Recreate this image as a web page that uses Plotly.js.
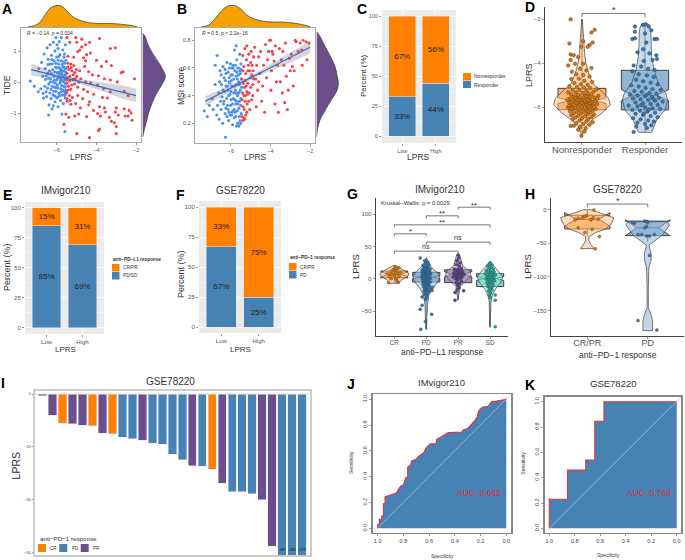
<!DOCTYPE html>
<html><head><meta charset="utf-8">
<script src="https://cdn.plot.ly/plotly-3.0.1.min.js"></script>
<style>html,body{margin:0;padding:0;background:#fff}#c{width:685px;height:560px}</style></head>
<body><div id="c"></div>
<script>
// ---------- DATA ----------
const aBlue=[[-7.35,.05],[-7.15,-.12],[-6.92,.45],[-6.95,-.3],[-6.82,-.2],[-6.78,.65],[-6.72,.2],[-6.7,-.35],[-6.68,-.5],[-6.65,.92],[-6.6,.45],[-6.58,.1],[-6.55,-.3],[-6.52,-.45],[-6.5,1.12],[-6.45,.75],[-6.45,.3],[-6.42,-.05],[-6.4,-.72],[-6.42,-1.05],[-6.35,.6],[-6.35,1.22],[-6.32,.12],[-6.3,-.22],[-6.3,-.52],[-6.28,.88],[-6.25,-.85],[-6.22,.42],[-6.2,.02],[-6.2,-.4],[-6.18,1.3],[-6.15,.7],[-6.15,.2],[-6.12,-.15],[-6.1,-.62],[-6.1,1.02],[-6.08,.5],[-6.05,-.28],[-6.05,1.45],[-6.02,.82],[-6.02,.08],[-6,-.5],[-5.98,.32],[-5.98,-.08],[-5.95,1.1],[-5.95,-.78],[-5.92,.6],[-5.9,.18],[-5.9,-.35],[-5.88,1.32],[-5.85,-.02],[-5.85,.9],[-5.82,.42],[-5.82,-.58],[-5.8,.12],[-5.8,-.2],[-5.78,1.45],[-5.78,.7],[-5.75,-1.02],[-5.75,.28],[-5.72,-.4],[-5.72,.05],[-5.7,1.05],[-5.7,.5],[-5.68,-.68],[-5.68,.22],[-5.65,-.12],[-5.65,.82],[-5.62,.38],[-5.62,-.3],[-5.6,.1],[-5.6,-1.58],[-5.6,.62],[-5.58,-.5],[-5.58,1.22],[-5.58,.25],[-5.56,-.05],[-5.56,.45],[-5.55,-.25],[-5.55,.72],[-5.55,.15],[-6.55,.22],[-6.38,.38],[-6.28,.28],[-6.12,.35],[-6.02,.48],[-5.92,.3],[-5.82,.26],[-5.72,.36],[-5.66,.02],[-6.48,-.18],[-6.25,-.12],[-6.08,-.02],[-5.96,-.18],[-5.84,-.42],[-6.18,-.75],[-5.94,.72],[-5.74,.58],[-5.62,.92],[-6.62,-.12],[-6.46,.58],[-6.36,-.34],[-6.26,.74],[-6.16,-.28],[-6.06,.62],[-6,1.22],[-5.94,-.46],[-5.88,.48],[-5.83,.06],[-5.76,-.1],[-5.7,.18],[-5.64,.5],[-5.59,-.15],[-5.57,.34],[-6.34,.02],[-6.14,.08],[-6.04,-.16],[-5.91,.84],[-5.79,-.3],[-5.69,-.24],[-5.61,-.42],[-6.44,.14],[-6.24,.6],[-6.1,-.44],[-5.97,.14],[-5.86,.34],[-5.77,.42],[-5.67,.66],[-5.56,-.36]];
const aRed=[[-5.5,1.45],[-5.35,1.3],[-5.05,1.45],[-4.75,1.4],[-5,1.3],[-4.35,1.3],[-3.85,1.42],[-3.3,1.1],[-3.05,1.12],[-4.55,1.22],[-4.75,1.15],[-4.85,1.05],[-4.95,1.0],[-4.3,.95],[-4.5,.9],[-3.5,.68],[-3.25,.55],[-2.75,.32],[-2.65,.35],[-3.75,.52],[-4,.72],[-4.55,.7],[-5.45,.62],[-5.3,.6],[-5.15,.55],[-5.4,.42],[-5.25,.38],[-5.1,.32],[-4.85,.38],[-4.6,.52],[-4.4,.35],[-4.2,.25],[-3.9,.22],[-3.6,.12],[-3.3,.08],[-2.95,.02],[-2.08,.12],[-5.5,.3],[-5.48,.15],[-5.35,.2],[-5.2,.1],[-5,.2],[-4.8,.12],[-4.55,.02],[-4.3,-.02],[-3.95,-.08],[-3.65,-.2],[-3.3,-.3],[-2.6,-.28],[-2.4,-.42],[-5.5,-.02],[-5.42,-.12],[-5.3,-.22],[-5.12,-.05],[-4.95,-.15],[-4.65,-.22],[-4.45,-.3],[-4.15,-.38],[-3.7,-.48],[-3.45,-.5],[-5.52,-.32],[-5.38,-.42],[-5.22,-.48],[-4.95,-.42],[-4.7,-.52],[-4.35,-.62],[-3.85,-.78],[-3.6,-.82],[-3,-.82],[-2.6,-.85],[-2.35,-.9],[-2.25,-.98],[-5.48,-.6],[-5.3,-.7],[-5.05,-.68],[-4.82,-.82],[-4.4,-.72],[-4.15,-.9],[-3.95,-1.0],[-3.55,-.95],[-3.35,-1.12],[-3.05,-.95],[-2.9,-1.05],[-2.55,-1.08],[-2.4,-1.08],[-2.2,-1.22],[-5.55,-1.02],[-5.4,-1.12],[-5.1,-1.08],[-4.9,-1.02],[-4.5,-1.1],[-3.8,-1.08],[-3.25,-1.25],[-3.1,-1.3],[-3,-1.42],[-5.65,-1.35],[-3.9,-1.55],[-3.85,-1.5],[-5,-1.65],[-3,-1.65],[-4.35,-1.78],[-5.15,.82],[-5.45,.85],[-4.65,.8],[-5.52,.08],[-5.46,.5],[-5.44,-.24],[-5.36,.05],[-5.28,.48],[-5.26,-.08],[-5.18,.25],[-5.08,.12],[-5.02,.42],[-4.9,.02],[-5.5,-.52],[-5.34,-.58]];
const bBlue=[[-7.35,.29],[-7.2,.25],[-7.1,.33],[-6.95,.38],[-6.9,.3],[-6.8,.48],[-6.8,.62],[-6.72,.26],[-6.7,.69],[-6.68,.33],[-6.62,.42],[-6.6,.23],[-6.55,.58],[-6.52,.36],[-6.5,.3],[-6.48,.48],[-6.42,.2],[-6.4,.61],[-6.38,.34],[-6.35,.53],[-6.32,.43],[-6.3,.27],[-6.28,.1],[-6.25,.56],[-6.22,.38],[-6.2,.64],[-6.18,.47],[-6.15,.3],[-6.12,.22],[-6.1,.5],[-6.08,.6],[-6.05,.41],[-6.02,.33],[-6,.55],[-5.98,.26],[-5.95,.47],[-5.92,.19],[-5.9,.62],[-5.88,.38],[-5.86,.52],[-5.84,.3],[-5.82,.73],[-5.8,.58],[-5.78,.44],[-5.76,.25],[-5.74,.76],[-5.72,.36],[-5.7,.66],[-5.68,.52],[-5.66,.2],[-5.64,.42],[-5.62,.6],[-5.6,.31],[-5.58,.48],[-5.56,.7],[-5.54,.22],[-5.52,.56],[-5.5,.38],[-5.5,.63],[-5.48,.27],[-5.46,.46],[-6.3,.59],[-6.15,.57],[-6.02,.63],[-5.95,.6],[-5.88,.6],[-5.78,.62],[-5.7,.57],[-5.62,.55],[-6.08,.53],[-6.25,.47],[-6.4,.44],[-6,.43],[-5.82,.47],[-5.72,.48],[-5.6,.42],[-5.55,.58],[-6.12,.4],[-5.92,.34],[-5.76,.34],[-5.64,.34],[-6.35,.36],[-6.18,.33],[-5.96,.28],[-5.84,.24],[-5.68,.29],[-5.5,.33],[-6.5,.55],[-6.1,.28],[-5.52,.2],[-5.6,.18],[-5.72,.18],[-6.58,.5],[-6.45,.39],[-6.28,.51],[-6.2,.25],[-6.06,.49],[-5.99,.37],[-5.93,.55],[-5.86,.42],[-5.8,.37],[-5.74,.54],[-5.67,.4],[-5.61,.5],[-5.57,.36],[-5.53,.44],[-5.47,.52],[-6.26,.31],[-6.04,.26],[-5.9,.29],[-5.79,.28],[-5.66,.6],[-5.58,.25],[-5.49,.59],[-6.16,.44],[-5.97,.51],[-5.75,.42]];
const bRed=[[-5.45,.52],[-5.4,.69],[-5.35,.61],[-5.32,.46],[-5.3,.74],[-5.28,.4],[-5.25,.56],[-5.22,.66],[-5.2,.76],[-5.18,.34],[-5.15,.49],[-5.12,.62],[-5.1,.7],[-5.08,.42],[-5.05,.3],[-5.02,.53],[-5,.64],[-4.98,.72],[-4.95,.37],[-4.9,.48],[-4.88,.58],[-4.85,.68],[-4.8,.75],[-4.75,.52],[-4.72,.32],[-4.7,.62],[-4.65,.44],[-4.6,.68],[-4.55,.56],[-4.5,.72],[-4.45,.36],[-4.4,.47],[-4.35,.62],[-4.3,.28],[-4.25,.77],[-4.2,.53],[-4.15,.66],[-4.1,.72],[-4.05,.8],[-4,.8],[-3.98,.44],[-3.95,.58],[-3.92,.72],[-3.88,.7],[-3.82,.65],[-3.78,.34],[-3.75,.76],[-3.7,.5],[-3.65,.62],[-3.6,.28],[-3.55,.74],[-3.5,.5],[-3.45,.66],[-3.4,.42],[-3.38,.72],[-3.32,.62],[-3.28,.35],[-3.25,.78],[-3.2,.54],[-3.15,.3],[-3.1,.44],[-3.05,.67],[-3,.58],[-2.95,.7],[-2.9,.61],[-2.85,.47],[-2.8,.58],[-2.75,.8],[-2.7,.79],[-2.6,.72],[-2.5,.78],[-2.42,.73],[-2.4,.62],[-2.35,.8],[-2.2,.79],[-2.15,.66],[-2.05,.78],[-5.45,.25],[-5.4,.22],[-5.35,.24],[-5.3,.23],[-5.38,.32],[-5.25,.26],[-5.2,.28],[-5.42,.42],[-5.35,.4],[-5.28,.36],[-5.4,.58],[-5.2,.43],[-5.1,.36],[-4.95,.55],[-5.15,.58],[-4.9,.4],[-5,.46],[-4.85,.52],[-4.6,.5],[-5.44,.37],[-5.37,.49],[-5.33,.3],[-5.27,.51],[-5.23,.47],[-5.16,.41],[-5.06,.58],[-4.93,.62]];
const aTopX=[-7.5,-7.2,-6.9,-6.6,-6.35,-6.1,-5.9,-5.7,-5.45,-5.2,-4.95,-4.6,-4.3,-3.9,-3.6,-3.3,-2.9,-2.5,-2.2,-1.95];
const aTopD=[0,.05,.19,.56,.87,.98,1,.93,.7,.47,.35,.24,.19,.16,.16,.16,.14,.1,.06,.01];
const aRightY=[1.59,1.48,1.27,.94,.61,.29,.18,-.03,-.35,-.68,-1,-1.33,-1.54,-1.76];
const aRightD=[0,.12,.21,.44,.74,.97,1,.88,.62,.41,.26,.15,.07,.01];
const bTopX=[-7.52,-7.15,-6.8,-6.47,-6.22,-5.88,-5.54,-5.2,-4.87,-4.45,-3.94,-3.43,-2.76,-2.25,-2];
const bTopD=[0,.08,.39,.75,.94,1,.86,.55,.39,.28,.23,.23,.17,.08,.01];
const bRightY=[.86,.83,.76,.69,.62,.54,.49,.44,.37,.3,.22,.16,.1];
const bRightD=[.02,.15,.38,.61,.83,.95,1,.94,.68,.42,.15,.05,0];
const aFitX=[-7.3,-6.4,-5.5,-4.6,-3.7,-2.8,-2];
const aFit=[.42,.28,.14,.0,-.14,-.29,-.42];
const aLow=[.22,.16,.07,-.09,-.28,-.5,-.64];
const aUp=[.62,.40,.21,.09,0,-.08,-.2];
const bFitX=[-7.3,-6.4,-5.5,-4.6,-3.7,-2.8,-2];
const bFit=[.36,.426,.493,.559,.625,.691,.75];
const bLow=[.325,.402,.476,.54,.597,.65,.705];
const bUp=[.395,.45,.51,.578,.653,.732,.795];

const lowHigh=["Low","High"];
const cResponder=[33,44], cNonresponder=[67,56];
const eBottom=[85,69], eTop=[15,31];
const fBottom=[67,25], fTop=[33,75];

const dCats=["Nonresponder","Responder"];
const dNonViolinY=[-2,-2.64,-3.09,-3.55,-4,-4.45,-4.91,-5.29,-5.59,-5.89,-6.27,-6.58,-6.88,-7.18,-7.33];
const dNonViolinW=[.005,.016,.032,.042,.063,.106,.169,.317,.423,.45,.317,.159,.063,.016,.005];
const dResViolinY=[-2.21,-2.48,-3.09,-3.7,-4.3,-4.91,-5.36,-5.67,-6.12,-6.58,-7.14];
const dResViolinW=[.053,.09,.095,.106,.143,.212,.328,.36,.317,.185,.106];
const dNonPts=[[-.18,-2],[.2,-2.48],[.15,-2.6],[-.2,-3.1],[.02,-3],[.17,-3.06],[.12,-3.17],[.09,-3.25],[-.01,-3.25],[-.18,-3.6],[-.13,-3.63],[-.18,-3.85],[-.06,-3.72],[-.22,-4.1],[-.11,-4.02],[.02,-4.02],[.15,-4.22],[-.03,-4.25],[-.16,-4.38],[.07,-4.33],[.02,-4.53],[-.09,-4.5],[.12,-4.6],[-.17,-4.72],[-.05,-4.7],[.04,-4.8],[.16,-4.85],[-.12,-4.9],[-.02,-4.95],[.09,-4.98],[-.2,-5.05],[-.08,-5.08],[.03,-5.1],[.13,-5.12],[.23,-5.18],[-.15,-5.2],[-.04,-5.22],[.07,-5.25],[.18,-5.3],[-.22,-5.32],[-.1,-5.33],[.01,-5.35],[.11,-5.38],[-.17,-5.42],[-.06,-5.44],[.05,-5.45],[.15,-5.47],[.26,-5.48],[-.13,-5.52],[-.02,-5.54],[.09,-5.55],[.2,-5.57],[-.19,-5.6],[-.08,-5.61],[.03,-5.62],[.13,-5.64],[-.23,-5.66],[-.12,-5.67],[-.01,-5.68],[.1,-5.7],[.21,-5.72],[-.16,-5.74],[-.05,-5.75],[.06,-5.77],[.16,-5.78],[-.2,-5.8],[-.09,-5.82],[.02,-5.83],[.12,-5.84],[.24,-5.86],[-.14,-5.88],[-.03,-5.89],[.08,-5.91],[.18,-5.92],[-.18,-5.95],[-.07,-5.96],[.04,-5.98],[.14,-5.99],[-.22,-6.01],[-.11,-6.03],[0,-6.04],[.1,-6.06],[.22,-6.08],[-.15,-6.1],[-.04,-6.12],[.07,-6.14],[.17,-6.16],[-.19,-6.18],[-.08,-6.2],[.03,-6.22],[.13,-6.24],[-.13,-6.27],[-.02,-6.29],[.09,-6.31],[.19,-6.34],[-.17,-6.36],[-.06,-6.39],[.05,-6.41],[.15,-6.44],[-.11,-6.47],[0,-6.5],[.1,-6.53],[-.15,-6.56],[-.04,-6.6],[.07,-6.64],[.17,-6.68],[-.09,-6.72],[.02,-6.76],[.12,-6.8],[-.13,-6.84],[-.03,-6.9],[.06,-6.95],[-.18,-6.85],[-.06,-7.02],[.04,-7.1],[-.01,-7.3],[-.1,-5.57],[.04,-5.72],[-.2,-5.92],[.24,-5.6],[.11,-5.95],[-.01,-5.79],[-.16,-6.06],[.06,-5.5],[.19,-6.0],[-.07,-5.68],[.09,-6.19]];
const dResPts=[[-.16,-2.33],[-.03,-2.26],[.01,-2.22],[.06,-2.33],[-.16,-2.56],[-.2,-2.9],[-.16,-2.86],[0,-2.64],[.1,-2.5],[.15,-2.9],[.19,-2.9],[.02,-3.06],[-.03,-3.36],[.07,-3.55],[.18,-3.64],[.19,-3.8],[-.12,-3.5],[.12,-3.85],[-.02,-3.9],[-.18,-4.1],[-.06,-4.15],[.05,-4.25],[.15,-4.3],[-.2,-4.36],[-.1,-4.5],[.03,-4.55],[.14,-4.62],[-.14,-4.75],[-.03,-4.82],[.09,-4.88],[.2,-4.95],[-.22,-5],[-.1,-5.06],[.01,-5.12],[.12,-5.18],[.25,-5.22],[-.17,-5.26],[-.05,-5.3],[.07,-5.35],[.18,-5.38],[-.24,-5.42],[-.12,-5.46],[0,-5.5],[.11,-5.53],[.22,-5.57],[-.19,-5.6],[-.07,-5.64],[.05,-5.67],[.16,-5.7],[.28,-5.74],[-.15,-5.78],[-.03,-5.82],[.09,-5.85],[.2,-5.9],[-.26,-5.92],[-.12,-5.96],[0,-6],[.12,-6.04],[.24,-6.08],[-.2,-6.12],[-.08,-6.16],[.04,-6.2],[.16,-6.25],[-.15,-6.3],[-.03,-6.35],[.09,-6.4],[.2,-6.45],[-.19,-6.5],[-.07,-6.55],[.05,-6.6],[.14,-6.65],[-.12,-6.7],[0,-6.76],[.1,-6.82],[-.14,-6.88],[.03,-6.94],[-.18,-7.12],[.02,-5.44],[-.06,-5.9],[.13,-5.62],[-.02,-6.28],[.06,-6.1]];
const dBoxNon={q1:-6.11,med:-5.7,q3:-5.14,lo:-7.35,hi:-2,notch:.13};
const dBoxRes={q1:-6.12,med:-5.45,q3:-4.32,lo:-7.14,hi:-2.22,notch:.25};

const gCats=["CR","PD","PR","SD"];
const gQ1=[1.5,-5,-6,-12], gMed=[7,2.5,7,.5], gQ3=[12,10,14,8], gLo=[-7,-78,-33,-75], gHi=[19,32,37,25], gNotch=[4,2,4,3];
const gViolinY=[[-7,-3,1,5,9,13,17,20],[-78,-60,-40,-25,-15,-5,3,10,18,25,33],[-33,-22,-12,-3,5,12,20,28,37],[-75,-50,-35,-25,-15,-5,3,10,18,25]];
const gViolinW=[[.15,.2,.3,.44,.44,.3,.17,.06],[.015,.02,.04,.08,.2,.36,.42,.34,.16,.06,.01],[.01,.03,.07,.24,.4,.36,.14,.1,.05],[.01,.015,.03,.07,.18,.34,.4,.3,.16,.04]];
const gPts=[
 [[-.18,-6],[.12,-5],[.08,-3],[-.1,0],[.05,1],[-.15,4],[.15,4],[0,5],[-.06,7],[.1,8],[-.2,8],[.04,10],[-.1,11],[.2,10],[.08,13],[-.04,14],[.05,16],[.02,19],[.14,17]],
 [[.81,32],[.81,-47],[.87,-41],[.87,-28],[1.17,-55],[.97,-66],[.83,-78],[.95,28],[1.05,26],[.98,24],[1.08,22],[.9,21],[1.02,20],[.94,18],[1.06,18],[1,16],[.9,15],[1.12,15],[.96,14],[1.04,13],[.87,12],[1.1,11],[.98,11],[1.02,10],[.92,9],[1.07,9],[.96,8],[1.14,8],[.88,7],[1.01,7],[1.05,6],[.93,6],[.98,5],[1.1,5],[.86,4],[1.03,4],[.95,3],[1.07,3],[1,2],[.91,2],[1.13,1],[.97,1],[1.04,0],[.88,0],[.94,-1],[1.08,-1],[1,-2],[.9,-3],[1.05,-3],[.96,-4],[1.12,-5],[1.02,-5],[.93,-6],[.99,-7],[1.07,-8],[.89,-8],[.96,-10],[1.04,-10],[1.1,-11],[.92,-12],[1,-13],[1.06,-14],[.95,-15],[1.13,-16],[.98,-17],[1.03,-18],[.93,-19],[1.08,-20],[.99,-21],[1.04,-23],[.94,-24],[1.01,-26],[1.18,-18],[1.2,-13],[.97,-32],[1.01,-29]],
 [[2,37],[2.02,32],[1.96,28],[2.06,25],[1.9,-33],[2.17,-18.5],[1.9,-21],[1.94,22],[2.04,20],[2.1,16],[1.88,15],[1.99,15],[2.06,13],[1.93,12],[2.14,11],[2.02,10],[1.86,9],[1.97,8],[2.09,7],[2.18,7],[1.9,6],[2.03,5],[1.95,4],[2.12,3],[1.84,3],[2,2],[2.07,1],[1.92,0],[1.98,-2],[2.1,-4],[1.94,-6],[2.04,-8],[1.98,-10],[2.02,-14],[1.96,-17]],
 [[3.16,-74],[3.16,-33],[3.16,-25],[3,25],[2.98,23],[3.06,21],[2.92,20],[3.03,18],[2.96,16],[3.1,15],[2.88,13],[3.01,12],[3.12,11],[2.94,10],[3.05,9],[2.85,8],[2.99,7],[3.16,6],[3.08,5],[2.91,4],[3.02,3],[2.96,2],[3.11,1],[2.87,0],[3.04,-1],[2.94,-2],[3.14,-3],[2.99,-4],[3.07,-5],[2.9,-6],[3.02,-7],[2.96,-9],[3.1,-10],[2.93,-12],[3.04,-13],[2.98,-15],[3.06,-17],[2.95,-19],[3.02,-22],[2.97,-25],[3.01,-29]]
];
const gBrackets=[[0,2,42.8,"ns"],[0,1,69.6,"*"],[0,3,83.5,"**"],[1,3,56.7,"ns"],[1,2,97.4,"**"],[2,3,110.8,"**"]];

const hCats=["CR/PR","PD"];
const hQ1=[-28.7,-38.6], hMed=[-14.4,-27], hQ3=[-8.4,-17], hLo=[-40,-48], hHi=[-1,-17], hNotch=[10,12];
const hViolinY=[[-58,-52,-46,-40,-34,-29,-23,-17,-12,-6,0],[-180,-172,-166,-156,-146,-117,-85,-75,-65,-53,-38,-28,-23,-18]];
const hViolinW=[[.11,.06,.025,.03,.14,.3,.38,.42,.44,.25,.06],[.08,.08,.08,.055,.01,.01,.02,.055,.055,.02,.24,.32,.36,.33]];
const hPts=[[[.11,-.5],[-.01,-9],[-.05,-10],[-.08,-12],[-.15,-13],[-.2,-15],[.1,-12],[.18,-14],[.06,-15],[-.15,-27],[.08,-29],[-.04,-34],[.2,-40],[.13,-58]],
 [[.84,-165],[1.15,-179],[1.03,-68],[.95,-17],[.98,-18],[1,-19],[.78,-20],[.75,-19],[.95,-27],[.98,-25],[.84,-37],[.98,-39],[1.03,-39],[1.11,-37],[.9,-37]]];

const iResponse=["PR","PR","CR","PR","PR","CR","PR","CR","PD","PD","PR","PD","PD","PD","PD","PR","PD","CR","PR","PD","PD","PD","PR","PR","PD","PD","PD"];
const iValues=[-.7,-8,-11,-11.3,-11.8,-12,-14.8,-15,-16.3,-17,-17.5,-18.7,-19,-22.8,-25,-27.2,-27.3,-28.6,-33.9,-37,-37,-37.7,-40,-57.7,-68,-165,-179];
const iTicks=[0,-20,-40,-60];

const jSpec=[1,1,.987,.987,.969,.969,.956,.956,.943,.943,.917,.852,.839,.821,.8,.782,.767,.767,.744,.736,.702,.684,.64,.627,.593,.547,.541,.516,.484,.451,.347,.334,.295,.277,.244,.225,.218,.199,.179,.14,.114,.075,.023,0];
const jSens=[0,.026,.039,.07,.07,.096,.096,.191,.191,.245,.253,.276,.302,.328,.336,.393,.393,.473,.491,.522,.535,.556,.589,.62,.656,.656,.69,.705,.718,.742,.747,.762,.778,.798,.837,.866,.904,.93,.941,.946,.982,.987,.995,1];
const kSpec=[1,1,.857,.857,.714,.714,.643,.643,.571,.571,0];
const kSens=[0,.23,.23,.46,.46,.54,.54,.846,.846,1,1];
const rocTicks=[0,.2,.4,.6,.8,1];

// ---------- HELPERS ----------
const ORANGE="#FF7F00",BLUE="#4682B4",PURPLE="#6B4E8B",GOLD="#F7A100";
const FONT="Liberation Sans, Arial, sans-serif";
const X=p=>p/685,Y=p=>1-p/560;
const layout={width:685,height:560,margin:{l:0,r:0,t:0,b:0},autosize:false,showlegend:false,barmode:"stack",
 paper_bgcolor:"#fff",plot_bgcolor:"rgba(0,0,0,0)",font:{family:FONT,color:"#333"},shapes:[],annotations:[]};
const traces=[];
let nAxes=0;
function panel(box,xr,yr,xo={},yo={}){
 nAxes++;const n=nAxes,s=n==1?"":n;
 const base={showgrid:false,zeroline:false,showline:false,ticks:"outside",ticklen:2,tickwidth:.6,tickcolor:"#555",tickfont:{size:5.5,color:"#555",family:FONT}};
 layout["xaxis"+s]=Object.assign({},base,{domain:[X(box[0]),X(box[1])],range:xr,anchor:"y"+s,autorange:false},xo);
 layout["yaxis"+s]=Object.assign({},base,{domain:[Y(box[3]),Y(box[2])],range:yr,anchor:"x"+s,autorange:false},yo);
 return {xaxis:"x"+s,yaxis:"y"+s};
}
function note(x,y,text,size,o={}){
 layout.annotations.push(Object.assign({xref:"paper",yref:"paper",x:X(x),y:Y(y),text:text,showarrow:false,xanchor:"center",yanchor:"middle",
  font:{size:size,color:o.color||"#333",family:FONT},borderpad:0},o.a||{}));
}
function rect(x0,y0,x1,y1,color,layer="below"){
 layout.shapes.push({type:"rect",xref:"paper",yref:"paper",x0:X(x0),x1:X(x1),y0:Y(y0),y1:Y(y1),fillcolor:color,line:{width:0},layer:layer});
}
function add(ax,t){traces.push(Object.assign(t,ax,{hoverinfo:"skip"}));}
const hidden={showticklabels:false,ticks:"",showline:false};
const boxLine={showline:true,mirror:true,linecolor:"#aaa",linewidth:1.3};
function scatterPts(ax,pts,color,size,line){
 add(ax,{type:"scatter",mode:"markers",x:pts.map(p=>p[0]),y:pts.map(p=>p[1]),marker:{color:color,size:size,line:line||{width:0}}});
}
function violin(ax,cx,ys,ws,fill){
 const xs=ys.map((_,i)=>cx-ws[i]).concat(ys.map((_,i)=>cx+ws[ys.length-1-i]));
 const yy=ys.concat(ys.slice().reverse());
 xs.push(xs[0]);yy.push(yy[0]);
 add(ax,{type:"scatter",mode:"lines",x:xs,y:yy,fill:"toself",fillcolor:fill,line:{color:"#444",width:.7,shape:"linear"}});
}
function notchBox(ax,cx,b,fill,w){
 add(ax,{type:"box",x:[cx],q1:[b.q1],median:[b.med],q3:[b.q3],lowerfence:[b.lo],upperfence:[b.hi],notchspan:[b.notch],notched:true,notchwidth:.25,width:w,whiskerwidth:0,boxpoints:false,
  fillcolor:fill,line:{color:"#333",width:.9}});
}
function bracket(ax,x0,x1,y,drop){
 add(ax,{type:"scatter",mode:"lines",x:[x0,x0,x1,x1],y:[y-drop,y,y,y-drop],line:{color:"#555",width:.8}});
}
function density(box,xr,yr,xs,ys,color,horizontal){
 const ax=panel(box,xr,yr,hidden,hidden);
 add(ax,{type:"scatter",mode:"lines",x:xs,y:ys,fill:horizontal?"tozerox":"tozeroy",fillcolor:color,line:{color:"#444",width:.8,shape:"spline"}});
}
function scatterPanel(box,xr,yr,yo,blue,red,fx,f,lo,hi){
 const ax=panel(box,xr,yr,Object.assign({tickvals:[-6,-4,-2]},boxLine),Object.assign({},boxLine,yo));
 scatterPts(ax,blue,"#4C90F0",3.1);
 scatterPts(ax,red,"#F2444E",3.1);
 add(ax,{type:"scatter",mode:"lines",x:fx.concat(fx.slice().reverse()),y:hi.concat(lo.slice().reverse()),fill:"toself",fillcolor:"rgba(120,120,120,.3)",line:{width:0}});
 add(ax,{type:"scatter",mode:"lines",x:fx,y:f,line:{color:"#3B68D8",width:1.3}});
}
function stackPanel(box,yr,b,t,tickSize,legend){
 rect(box[0],box[2],box[1],box[3],"#EBEBEB");
 const grid={showgrid:true,gridcolor:"#fff",gridwidth:.7};
 const ax=panel(box,[-.6,1.6],yr,Object.assign({tickvals:[0,1],ticktext:lowHigh,tickfont:{size:tickSize,color:"#555",family:FONT}},grid),
   Object.assign({tickvals:[0,25,50,75,100],tickfont:{size:tickSize,color:"#555",family:FONT},minor:{dtick:12.5,showgrid:true,gridcolor:"#fff",gridwidth:.35,ticks:""}},grid));
 [[b,BLUE],[t,ORANGE]].forEach(([v,c])=>add(ax,{type:"bar",x:[0,1],y:v,width:.8,marker:{color:c,line:{width:.5,color:"#e3e8ee"}},
   text:v.map(p=>p+"%"),textposition:"inside",insidetextanchor:"middle",constraintext:"none",textfont:{size:8,color:"#222",family:FONT}}));
}

// ---------- A ----------
scatterPanel([21,141,28,142],[-7.82,-1.75],[-1.92,1.76],{tickvals:[-1,0,1]},aBlue,aRed,aFitX,aFit,aLow,aUp);
density([21,141,5,27],[-7.82,-1.75],[0,1.02],aTopX,aTopD,GOLD,false);
density([142.5,166,28,142],[0,1.03],[-1.92,1.76],aRightD,aRightY,PURPLE,true);
// ---------- B ----------
scatterPanel([195,315,28,143],[-7.82,-1.75],[.058,.889],{tickvals:[.2,.4,.6,.8],tickformat:".1f"},bBlue,bRed,bFitX,bFit,bLow,bUp);
density([195,315,5,27],[-7.82,-1.75],[0,1.02],bTopX,bTopD,GOLD,false);
density([316.5,339,28,143],[0,1.03],[.058,.889],bRightD,bRightY,PURPLE,true);
// ---------- C E F ----------
stackPanel([382,456,10,143],[-5.5,105],cResponder,cNonresponder,5.5);
stackPanel([25,104,202,334],[-5,104.7],eBottom,eTop,6);
stackPanel([199,281,201,333],[-5,105],fBottom,fTop,6);
// ---------- D ----------
{
 const ax=panel([545,682,7,142],[-.587,1.587],[-7.58,-1.44],
  {showline:true,linecolor:"#444",linewidth:1.1,tickvals:[0,1],ticktext:dCats,ticklabelstandoff:-4,tickfont:{size:9.5,color:"#555",family:FONT}},
  {showline:true,linecolor:"#444",linewidth:1.1,tickvals:[-6,-4,-2],tickfont:{size:6,color:"#555",family:FONT}});
 violin(ax,0,dNonViolinY,dNonViolinW,"rgba(253,190,130,.55)");
 violin(ax,1,dResViolinY,dResViolinW,"rgba(150,185,220,.55)");
 notchBox(ax,0,dBoxNon,"rgba(255,140,30,.65)",.76);
 notchBox(ax,1,dBoxRes,"rgba(70,130,180,.6)",.75);
 scatterPts(ax,dNonPts,"#D9760F",3.5,{color:"#5a3a10",width:.5});
 scatterPts(ax,dResPts.map(p=>[p[0]+1,p[1]]),"#3E77A8",3.5,{color:"#223f5a",width:.5});
 bracket(ax,0,1,-1.73,.18);
}
// ---------- G ----------
{
 const ax=panel([375.7,508,198,335.7],[-.583,3.56],[-88,125],
  {showline:true,linecolor:"#444",linewidth:1.1,tickvals:[0,1,2,3],ticktext:gCats,ticklabelstandoff:-2,tickfont:{size:6.5,color:"#555",family:FONT}},
  {showline:true,linecolor:"#444",linewidth:1.1,tickvals:[-50,0,50,100],tickfont:{size:6,color:"#555",family:FONT}});
 const fills=["rgba(253,190,130,.55)","rgba(150,185,220,.55)","rgba(175,160,200,.55)","rgba(150,225,215,.55)"];
 const boxF=["rgba(245,150,50,.7)","rgba(70,130,180,.65)","rgba(120,90,150,.65)","rgba(70,200,185,.7)"];
 const ptC=["#D9760F","#3E77A8","#5F4682","#2F9E92"],ptL=["#5a3a10","#223f5a","#2f2244","#14524c"];
 gCats.forEach((c,i)=>{
  violin(ax,i,gViolinY[i],gViolinW[i],fills[i]);
  notchBox(ax,i,{q1:gQ1[i],med:gMed[i],q3:gQ3[i],lo:gLo[i],hi:gHi[i],notch:gNotch[i]},boxF[i],.85);
  scatterPts(ax,gPts[i],ptC[i],3,{color:ptL[i],width:.4});
 });
 gBrackets.forEach(b=>{
  bracket(ax,b[0],b[1],b[2],4);
  layout.annotations.push({xref:ax.xaxis,yref:ax.yaxis,x:(b[0]+b[1])/2,y:b[2]+(b[3]=="ns"?7:3),text:b[3],showarrow:false,font:{size:b[3]=="ns"?7:8,color:"#333",family:FONT}});
 });
}
// ---------- H ----------
{
 const ax=panel([551,684,198,336],[-.6,1.6],[-188,17.4],
  {showline:true,linecolor:"#444",linewidth:1.1,tickvals:[0,1],ticktext:hCats,ticklabelstandoff:-4,tickfont:{size:9,color:"#555",family:FONT}},
  {showline:true,linecolor:"#444",linewidth:1.1,tickvals:[-150,-100,-50,0],tickfont:{size:6,color:"#555",family:FONT}});
 violin(ax,0,hViolinY[0],hViolinW[0],"rgba(253,190,130,.55)");
 violin(ax,1,hViolinY[1],hViolinW[1],"rgba(150,185,220,.6)");
 notchBox(ax,0,{q1:hQ1[0],med:hMed[0],q3:hQ3[0],lo:hLo[0],hi:hHi[0],notch:hNotch[0]},"rgba(255,140,30,.65)",.75);
 notchBox(ax,1,{q1:hQ1[1],med:hMed[1],q3:hQ3[1],lo:hLo[1],hi:hHi[1],notch:hNotch[1]},"rgba(70,130,180,.6)",.74);
 scatterPts(ax,hPts[0],"#D9760F",3,{color:"#5a3a10",width:.4});
 scatterPts(ax,hPts[1],"#3E77A8",3,{color:"#223f5a",width:.4});
 bracket(ax,0,1,8.4,5);
}
// ---------- I ----------
{
 const colors={CR:ORANGE,PD:BLUE,PR:PURPLE};
 const ax=panel([34.7,310,390.7,555],[-.8,26.8],[-61,1.25],
  {showticklabels:false,ticks:"",showline:true,mirror:true,linecolor:"#ccc",linewidth:1.5},
  {showline:true,mirror:true,linecolor:"#ccc",linewidth:1.5,tickvals:iTicks,tickfont:{size:4,color:"#444",family:FONT},ticklen:1.5});
 add(ax,{type:"bar",x:iValues.map((_,i)=>i),y:iValues,width:.84,marker:{color:iResponse.map(r=>colors[r]),line:{width:.5,color:"#dde5ee"}}});
 add(ax,{type:"scatter",mode:"lines",x:[-.8,26.8],y:[0,0],line:{color:"#bbb",width:.8,dash:"2px,2px"}});
 iValues.forEach((v,i)=>{ if(v<-60) layout.annotations.push({xref:ax.xaxis,yref:ax.yaxis,x:i,y:-59.2,text:String(Math.round(v)),showarrow:false,
   font:{size:3.8,color:"#111",family:FONT}}); });
}
// ---------- J K ----------
function rocPanel(box,xr,yr,sp,se){
 const tf={size:5.6,color:"#444",family:FONT};
 const ax=panel(box,xr,yr,Object.assign({},boxLine,{linecolor:"#888",tickvals:rocTicks,tickformat:".1f",tickfont:tf}),
   Object.assign({},boxLine,{linecolor:"#888",tickvals:rocTicks,tickformat:".1f",tickfont:tf,tickangle:-90}));
 add(ax,{type:"scatter",mode:"lines",x:sp.concat([0,1]),y:se.concat([0,0]),fill:"toself",fillcolor:BLUE,line:{width:0}});
 add(ax,{type:"scatter",mode:"lines",x:[xr[0],xr[1]],y:[yr[0],yr[1]],line:{color:"#c9c9c9",width:.7}});
 add(ax,{type:"scatter",mode:"lines",x:sp,y:se,line:{color:"#E8303A",width:1.1}});
}
rocPanel([372.7,511.3,394,533],[1.039,-.039],[-.036,1.041],jSpec,jSens);
rocPanel([544.7,681.3,396.7,533],[1.036,-.036],[-.037,1.04],kSpec,kSens);

// ---------- TEXT ----------
[["A",7,9],["B",182,9],["C",362,9],["D",530,7],["E",7,195],["F",180,195],["G",352,194],["H",530,194],["I",3,383],["J",351,384],["K",530,385]]
 .forEach(l=>note(l[1],l[2],"<b>"+l[0]+"</b>",14,{color:"#000"}));
note(81,157,"LPRS",8.5);note(7,85,"TIDE",8.5,{a:{textangle:-90}});
note(26,32.7,"<i>R</i> = −0.14, <i>p</i> = 0.004",5,{a:{xanchor:"left"}});
note(255,157,"LPRS",8.5);note(181,86,"MSI score",8.5,{a:{textangle:-90}});
note(201,33,"<i>R</i> = 0.5, <i>p</i> < 2.2e−16",5,{a:{xanchor:"left"}});
note(418,157,"LPRS",8.5);note(364,76,"Percent (%)",8,{a:{textangle:-90}});
rect(463,73,471,80.5,ORANGE);rect(463,81,471,88,BLUE);
note(473,76.5,"Nonresponder",5,{a:{xanchor:"left"}});note(473,84.5,"Responder",5,{a:{xanchor:"left"}});
note(529,75,"LPRS",9,{a:{textangle:-90}});note(613.7,10,"*",9);
note(66,190,"IMvigor210",10);note(7,267,"Percent (%)",9,{a:{textangle:-90}});note(65,349,"LPRS",8);
note(112,259,"<b>anti−PD−L1 response</b>",4.7,{a:{xanchor:"left"}});
rect(112,264,119.5,271.5,ORANGE);rect(112,272,119.5,279.5,BLUE);
note(122,267.5,"CR/PR",4.7,{a:{xanchor:"left"}});note(122,275.5,"PD/SD",4.7,{a:{xanchor:"left"}});
note(240.7,190,"GSE78220",10);note(181,274,"Percent (%)",9,{a:{textangle:-90}});note(240,349,"LPRS",8);
note(289,258,"<b>anti−PD−1 response</b>",4.7,{a:{xanchor:"left"}});
rect(289,263,296.5,270.5,ORANGE);rect(289,271,296.5,278.5,BLUE);
note(299,267,"CR/PR",4.7,{a:{xanchor:"left"}});note(299,275,"PD",4.7,{a:{xanchor:"left"}});
note(439.7,189,"IMvigor210",10);note(380,202.7,"Kruskal−Wallis, p = 0.0029",5.8,{a:{xanchor:"left"}});
note(355,267,"LPRS",9.5,{a:{textangle:-90}});note(442,352,"anti−PD−L1 response",8.5);
note(617,189,"GSE78220",10);note(618,201,"*",9);note(527,267,"LPRS",9.5,{a:{textangle:-90}});note(617.7,355,"anti−PD−1 response",8.5);
note(170.7,381.7,"GSE78220",10);note(15.7,465.7,"LPRS",10.5,{a:{textangle:-90}});
note(38.7,538,"anti−PD−1 response",6.2,{a:{xanchor:"left"}});
rect(38,544,46,552,ORANGE);rect(59.3,544,67.3,552,BLUE);rect(80.7,544,88.7,552,PURPLE);
note(49,548,"CR",4.5,{a:{xanchor:"left"}});note(70.7,548,"PD",4.5,{a:{xanchor:"left"}});note(91.7,548,"PR",4.5,{a:{xanchor:"left"}});
note(441,382.7,"IMvigor210",9.5);note(478.7,493,"AUC: 0.645",8.5,{color:"#E0303A"});
note(351,463,"Sensitivity",5,{a:{textangle:-90}});note(442,555.7,"Specificity",5);
note(613,383.7,"GSE78220",9.5);note(649,493,"AUC: 0.769",8.5,{color:"#E0303A"});
note(522.7,463,"Sensitivity",5,{a:{textangle:-90}});note(608,555,"Specificity",5);

Plotly.newPlot("c",traces,layout,{staticPlot:true,displayModeBar:false});
</script></body></html>
